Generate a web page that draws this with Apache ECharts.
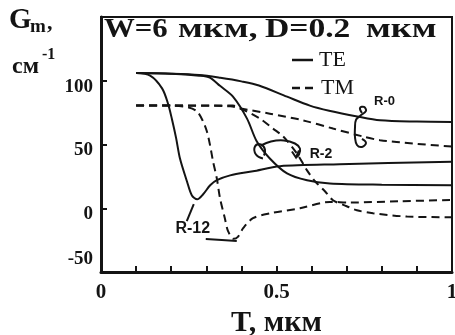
<!DOCTYPE html>
<html>
<head>
<meta charset="utf-8">
<script src="https://cdn.jsdelivr.net/npm/echarts@6/dist/echarts.min.js"></script>
<style>
  html, body { margin: 0; padding: 0; background: #fff; }
  #c { width: 455px; height: 335px; }
</style>
</head>
<body>
<div id="c"></div>
<script>
// Modal gain G_m (cm^-1) against layer thickness T (µm), W = 6 µm, D = 0.2 µm.
// Solid lines: TE modes, dashed lines: TM modes, for R = 0, 2 and 12.
const teR0 = [[0.1,106],[0.2,105.5],[0.28,104.5],[0.34,102.3],[0.4,99.5],[0.45,96.3],[0.53,87.5],[0.595,80.5],[0.65,76.5],[0.73,72],[0.795,69],[0.9,68],[1.0,67.7]];
const teR2 = [[0.1,106],[0.2,105.5],[0.28,104],[0.31,102.5],[0.339,96],[0.376,87.5],[0.416,70.3],[0.444,52.3],[0.481,39],[0.53,27.3],[0.587,21.9],[0.652,19.5],[0.8,18.5],[1.0,18]];
const teR12 = [[0.1,106],[0.14,104],[0.174,94],[0.191,82],[0.202,70],[0.214,55],[0.225,39],[0.245,21],[0.259,10],[0.274,7],[0.291,11],[0.311,18],[0.33,22],[0.368,25.8],[0.433,29],[0.51,33],[0.68,34.5],[1.0,36.5]];
const tmR0 = [[0.1,80.5],[0.2,80.5],[0.376,80.5],[0.396,78.5],[0.481,74.2],[0.575,69],[0.661,62.5],[0.746,56.3],[0.795,53.4],[0.889,50.8],[1.0,48.4]];
const tmR2 = [[0.1,80.5],[0.2,80.5],[0.368,80],[0.41,76.6],[0.453,70.3],[0.49,62.5],[0.519,56.3],[0.558,43],[0.587,29.7],[0.61,21.1],[0.638,13.3],[0.661,6.3],[0.7,1.6],[0.729,-1.6],[0.775,-3.9],[0.872,-6.5],[1.0,-7]];
const tmR12 = [[0.1,80.5],[0.2,80.5],[0.25,79],[0.274,75.8],[0.291,68],[0.302,60],[0.311,49],[0.319,37],[0.33,23.4],[0.339,8],[0.353,-8],[0.362,-18],[0.378,-24],[0.39,-22.5],[0.405,-15.6],[0.433,-7.8],[0.481,-4],[0.567,0],[0.652,5],[0.709,4.5],[0.85,5.5],[1.0,6.5]];

const xTickLabels = ['0', '0.5', '1'];
const yTickLabels = ['-50', '0', '50', '100'];
const legendNames = ['TE', 'TM'];

const INK = '#141414';
const SERIF = '"Liberation Serif", "DejaVu Serif", serif';
const SANS = '"Liberation Sans", "DejaVu Sans", sans-serif';
const DASH = [8, 5];

const chart = echarts.init(document.getElementById('c'), null, { renderer: 'canvas' });

function curve(name, data, dashed) {
  return {
    name: name,
    type: 'line',
    data: data,
    smooth: 0.3,
    symbol: 'none',
    animation: false,
    itemStyle: { color: INK },
    lineStyle: { color: INK, width: 2, type: dashed ? DASH : 'solid' },
    z: 3
  };
}

const tickFont = { fontFamily: SERIF, fontWeight: 'bold', fontSize: 19, color: INK };

chart.setOption({
  backgroundColor: '#fff',
  animation: false,
  grid: {
    left: 101, top: 17, width: 351, height: 255,
    containLabel: false, outerBoundsMode: 'none',
    show: true, borderColor: INK, borderWidth: 2, backgroundColor: 'transparent'
  },
  xAxis: {
    type: 'value', min: 0, max: 1, interval: 0.1,
    name: 'T, мкм', nameLocation: 'middle', nameGap: 36,
    nameTextStyle: { fontFamily: SERIF, fontWeight: 'bold', fontSize: 30, color: INK },
    axisLine: { onZero: false, lineStyle: { color: INK, width: 3 } },
    axisTick: { inside: true, length: 6, lineStyle: { color: INK, width: 2 } },
    splitLine: { show: false },
    axisLabel: {
      margin: 10, color: INK, fontFamily: SERIF, fontWeight: 'bold', fontSize: 21,
      formatter: function (v) {
        const k = Math.round(v * 10);
        return k % 5 === 0 ? xTickLabels[k / 5] : '';
      }
    }
  },
  yAxis: {
    type: 'value', min: -50, max: 150, interval: 50,
    axisLine: { onZero: false, lineStyle: { color: INK, width: 3 } },
    axisTick: { inside: true, length: 6, lineStyle: { color: INK, width: 2 } },
    splitLine: { show: false },
    axisLabel: {
      margin: 8, color: INK, fontFamily: SERIF, fontWeight: 'bold', fontSize: 19,
      formatter: function (v) {
        const i = Math.round((v + 50) / 50);
        if (i >= yTickLabels.length) return '';
        // the numbers sit a little below their ticks, the lowest one above it
        return i === 0 ? '{d|' + yTickLabels[i] + '}\n{gapLo| }' : '{gap| }\n{d|' + yTickLabels[i] + '}';
      },
      rich: {
        d: Object.assign({ height: 19, lineHeight: 19 }, tickFont),
        gap: { height: 12, lineHeight: 12, fontSize: 10 },
        gapLo: { height: 26, lineHeight: 26, fontSize: 10 }
      }
    }
  },
  series: [
    curve(legendNames[0], teR0, false),
    curve(legendNames[0], teR2, false),
    curve(legendNames[0], teR12, false),
    curve(legendNames[1], tmR0, true),
    curve(legendNames[1], tmR2, true),
    curve(legendNames[1], tmR12, true)
  ]
});

// Annotations: heading, key, axis name with sub/superscripts, R labels and their brackets.
function px(T, G) { return chart.convertToPixel({ gridIndex: 0 }, [T, G]); }
function txt(s, x, y, font, sx, align) {
  return {
    type: 'text', x: x, y: y, scaleX: sx || 1, z: 10,
    style: {
      text: s, font: font, fill: INK,
      align: align || 'left', verticalAlign: 'middle',
      textAlign: align || 'left', textVerticalAlign: 'middle'
    }
  };
}
function poly(points, ox, oy, smooth, w, dash) {
  return {
    type: 'polyline', z: 9,
    shape: { points: points.map(p => [p[0] + ox, p[1] + oy]), smooth: smooth },
    style: { stroke: INK, lineWidth: w || 2, fill: null, lineDash: dash || null }
  };
}

const headFont = 'bold 28px ' + SERIF;
const keyFont = '22px ' + SERIF;
const A = px(0.725, 72);   // R = 0 pair
const B = px(0.45, 50);    // R = 2 pair
const C = px(0.27, 8);     // R = 12 pair

chart.setOption({
  graphic: [
    txt('W=6', 104, 30, headFont, 1.1),
    txt('мкм,', 178, 30, headFont, 1.3),
    txt('D=0.2', 265, 30, headFont, 1.2),
    txt('мкм', 366, 30, headFont, 1.3),

    poly([[0, 0], [21, 0]], 292, 60, 0, 2.5),
    txt(legendNames[0], 319, 60, keyFont),
    poly([[0, 0], [26, 0]], 292, 88, 0, 2.5, DASH),
    txt(legendNames[1], 321, 88, keyFont),

    txt('G', 9, 21, 'bold 29px ' + SERIF),
    txt('m', 30, 27, 'bold 19px ' + SERIF),
    txt(',', 47, 23, 'bold 22px ' + SERIF),
    txt('см', 12, 67, 'bold 24px ' + SERIF),
    txt('-1', 42, 55, 'bold 16px ' + SERIF),

    txt('R-0', A[0] + 29, A[1] - 15, 'bold 13px ' + SANS, 1, 'center'),
    poly([[6.5,-3.5],[4.5,-8.5],[8.5,-9.5],[10.5,-5.5],[4.5,-0.5],[0.5,3.5],[-0.5,11.5],[-0.5,20.5],[1.5,28.5],[6.5,30.5],[10.5,26.5],[6.5,22.5]], A[0], A[1], 0.4),

    txt('R-2', B[0] + 62, B[1] + 10, 'bold 14px ' + SANS, 1, 'center'),
    poly([[4,14],[-3,10],[-4,2],[2,0],[6,5],[5,11]], B[0], B[1], 0.5),
    poly([[2,1],[12,-3],[25,-4],[36,-1],[41,4],[40,10],[37,13]], B[0], B[1], 0.4),
    poly([[33,7],[37,13],[40,6]], B[0], B[1], 0),

    txt('R-12', C[0] - 3, C[1] + 31, 'bold 16px ' + SANS, 1, 'center'),
    poly([[-9,23],[-2,6]], C[0], C[1], 0),
    poly([[10,41],[26,42],[41,43]], C[0], C[1], 0)
  ]
});
</script>
</body>
</html>
